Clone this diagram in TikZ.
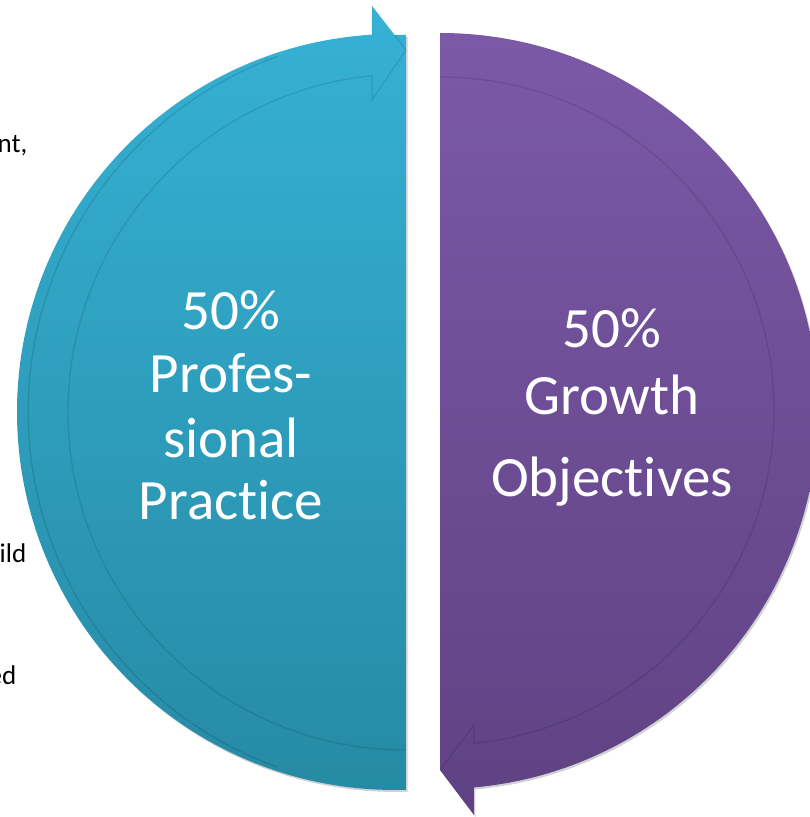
\documentclass[tikz,border=0pt]{standalone}
\usepackage{fontspec}
\setmainfont[Ligatures=NoCommon,RawFeature={-liga,-clig,-calt,-dlig}]{Carlito}
\definecolor{tealtop}{HTML}{36B1D5}
\definecolor{tealbot}{HTML}{268AA4}
\definecolor{purptop}{HTML}{7B59A7}
\definecolor{purpbot}{HTML}{5F4283}
\newcommand{\noligti}{t\kern0pt i}
\tikzset{
  shadowfill/.style={fill=black,opacity=0.18},
  faintline/.style={draw=black,opacity=0.11,line width=1.3pt},
  bigtext/.style={text=white,inner sep=0pt,anchor=base,font=\fontsize{57}{63}\selectfont},
  fragtext/.style={text=black,inner sep=0pt,anchor=base east,font=\fontsize{27}{32}\selectfont}
}
\begin{document}
\begin{tikzpicture}[x=1pt,y=1pt]
\useasboundingbox (0,0) rectangle (810,817);
% left teal half with arrow at top
\fill[shadowfill,shift={(1.5,-2)}] (406,27.2) arc[start angle=271.67,end angle=93.49,radius=378] -- (372,811) -- (394.5,782) -- (406,782) -- cycle;
\shade[top color=tealtop,bottom color=tealbot] (406,27.2) arc[start angle=271.67,end angle=93.49,radius=378] -- (372,811) -- (394.5,782) -- (406,782) -- cycle;
\draw[faintline] (406,67) arc[start angle=270,end angle=95.77,radius=338] -- (372,717) -- (406,767) -- (394.5,782);
\draw[faintline,opacity=0.12] (277,50) arc[start angle=250,end angle=110,radius=378];
% right purple half with arrow at bottom
\fill[shadowfill,shift={(1.5,-2)}] (440,784) arc[start angle=90,end angle=-84.85,radius=378] -- (474,2) -- (440,47) -- cycle;
\shade[top color=purptop,bottom color=purpbot] (440,784) arc[start angle=90,end angle=-84.85,radius=378] -- (474,2) -- (440,47) -- cycle;
\draw[faintline] (440,740) arc[start angle=90,end angle=-84.16,radius=334] -- (474,92) -- (440,47);
% texts
\node[bigtext] (l1) at (231,487) {50\%};
\node[bigtext] (l2) at (231,424) {Profes-};
\node[bigtext] (l3) at (231,359) {sional};
\node[bigtext] (l4) at (231,297) {Prac\noligti ce};
\node[bigtext] (r1) at (612,469) {50\%};
\node[bigtext] (r2) at (612,402) {Growth};
\node[bigtext] (r3) at (612,320) {Objec\noligti ves};
\node[fragtext] (f1) at (27.5,664) {nt,};
\node[fragtext] (f2) at (26.5,254) {ild};
\node[fragtext] (f3) at (16.5,132) {ed};
\end{tikzpicture}
\end{document}
